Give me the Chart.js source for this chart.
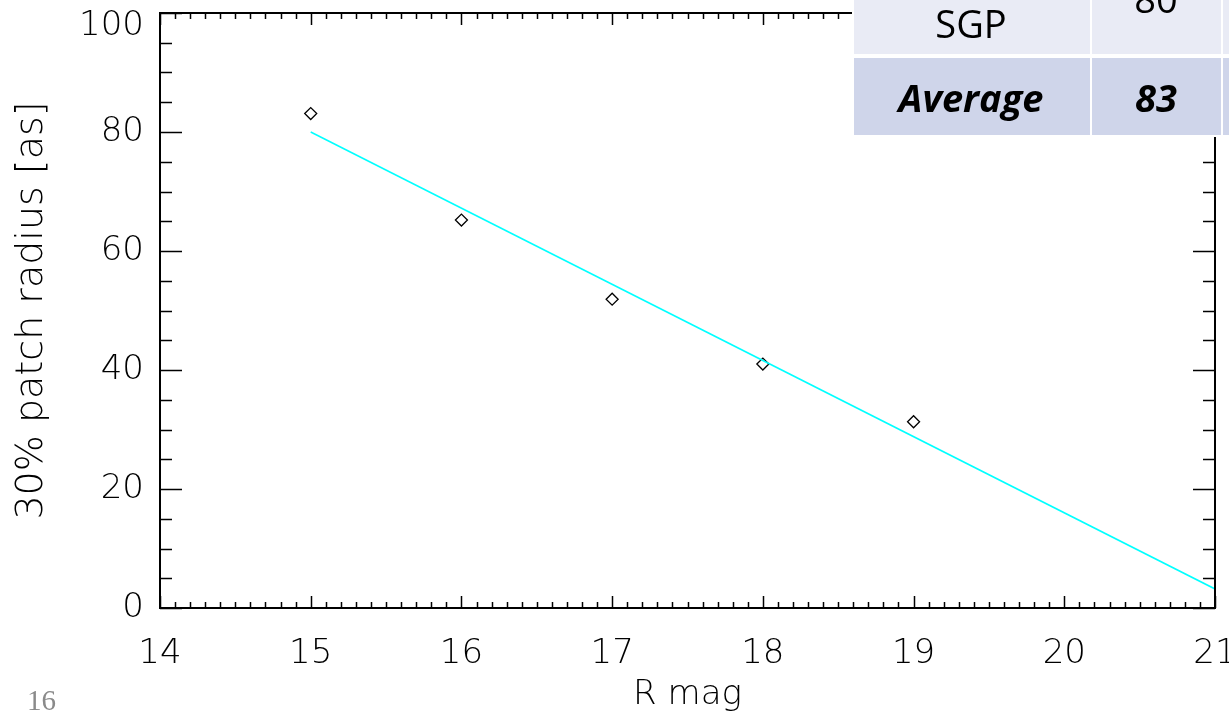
<!DOCTYPE html>
<html>
<head>
<meta charset="utf-8">
<script src="https://cdn.jsdelivr.net/npm/chart.js@4/dist/chart.umd.min.js"></script>
<style>
  html, body { margin: 0; padding: 0; background: #ffffff; }
  #wrap { position: relative; width: 1229px; height: 722px; }
</style>
</head>
<body>
<div id="wrap"><canvas id="c" width="1229" height="722"></canvas></div>
<script>
// Measured patch radius per R magnitude
const magnitudes  = [15, 16, 17, 18, 19];
const patchRadius = [83.1, 65.2, 51.9, 41.0, 31.3];

// Linear fit through the measurements
const fitMag    = [15, 21];
const fitRadius = [80.0, 3.2];

// Axis ranges
const xRange = [14, 21];
const yRange = [0, 100];

// Summary table rows
const tableLabels = ['SGP', 'Average'];
const tableValues = ['80', '83'];

const AXIS_FONT = '"DejaVu Sans", sans-serif';

// Keep the plot box fixed: no extra room reserved for overhanging edge labels
function fixBox(s, size) {
  if (s.isHorizontal()) s.height = size; else s.width = size;
  s.paddingLeft = 0; s.paddingRight = 0; s.paddingTop = 0; s.paddingBottom = 0;
}

// Nudge the top y label down so it stays inside the canvas
const topLabelNudge = {
  id: 'topLabelNudge',
  beforeDraw(chart) {
    const y = chart.scales.y;
    const items = y.getLabelItems(chart.chartArea);
    items.forEach(it => {
      if (it.label === String(yRange[1])) {
        const t = it.options.translation;
        it.options.translation = [t[0], t[1] + 13];
      }
    });
  }
};

// Frame with inward-pointing major/minor tick marks on all four sides
const frameTicks = {
  id: 'frameTicks',
  afterDatasetsDraw(chart) {
    const {ctx, chartArea: a, scales: {x, y}} = chart;
    ctx.save();
    ctx.strokeStyle = '#000';
    ctx.lineWidth = 1.5;
    ctx.beginPath();
    // x ticks: major every 1, minor every 0.1
    for (let i = 0; i <= (xRange[1] - xRange[0]) * 10; i++) {
      const v = xRange[0] + i / 10;
      const px = Math.round(x.getPixelForValue(v)) + 0.5;
      const len = (i % 10 === 0) ? 12 : 6;
      ctx.moveTo(px, a.bottom); ctx.lineTo(px, a.bottom - len);
      ctx.moveTo(px, a.top);    ctx.lineTo(px, a.top + len);
    }
    // y ticks: major every 20, minor every 5
    for (let v = yRange[0]; v <= yRange[1]; v += 5) {
      const py = Math.round(y.getPixelForValue(v)) + 0.5;
      const len = (v % 20 === 0) ? 22 : 12;
      ctx.moveTo(a.left, py);  ctx.lineTo(a.left + len, py);
      ctx.moveTo(a.right, py); ctx.lineTo(a.right - len, py);
    }
    ctx.stroke();
    ctx.lineWidth = 2;
    ctx.strokeRect(a.left, a.top, a.right - a.left, a.bottom - a.top);
    ctx.restore();
  }
};

// Slide number and the summary table in the top-right corner
const overlay = {
  id: 'overlay',
  afterDraw(chart) {
    const {ctx} = chart;
    ctx.save();
    // table cells
    const cols = [[854, 1090], [1092, 1221], [1223, 1229]];
    const rows = [[0, 54, '#e9ebf5'], [58, 135, '#cfd5ea']];
    ctx.fillStyle = '#ffffff';
    ctx.fillRect(852, 0, 377, 137);
    rows.forEach(r => {
      ctx.fillStyle = r[2];
      cols.forEach(c => ctx.fillRect(c[0], r[0], c[1] - c[0], r[1] - r[0]));
    });
    ctx.fillStyle = '#000';
    ctx.textAlign = 'center';
    ctx.textBaseline = 'alphabetic';
    ctx.font = '38px "Open Sans", sans-serif';
    ctx.fillText(tableLabels[0], 971, 38);
    ctx.fillText(tableValues[0], 1156, 13);
    ctx.font = 'italic bold 38px "Open Sans", sans-serif';
    ctx.fillText(tableLabels[1], 971, 112);
    ctx.fillText(tableValues[1], 1156, 112);

    // slide number
    ctx.fillStyle = '#8a8a8a';
    ctx.textAlign = 'left';
    ctx.font = '29px "Liberation Serif", serif';
    ctx.fillText('16', 27, 710);
    ctx.restore();
  }
};

new Chart(document.getElementById('c'), {
  data: {
    datasets: [
      {
        type: 'line',
        label: 'fit',
        data: fitMag.map((m, i) => ({x: m, y: fitRadius[i]})),
        borderColor: '#00ffff',
        borderWidth: 1.5,
        pointRadius: 0,
        fill: false,
        tension: 0
      },
      {
        type: 'scatter',
        label: 'measured',
        data: magnitudes.map((m, i) => ({x: m, y: patchRadius[i]})),
        pointStyle: 'rectRot',
        pointRadius: 6,
        pointBorderWidth: 1.3,
        borderColor: '#000000',
        backgroundColor: 'rgba(0,0,0,0)'
      }
    ]
  },
  options: {
    responsive: false,
    animation: false,
    layout: { padding: { top: 13, right: 14, left: 0, bottom: 0 } },
    plugins: { legend: { display: false }, tooltip: { enabled: false } },
    scales: {
      x: {
        type: 'linear',
        min: xRange[0], max: xRange[1],
        grid: { display: false, drawTicks: false },
        border: { display: false },
        ticks: { stepSize: 1, color: '#000', padding: 26, maxRotation: 0, autoSkip: false, font: { family: AXIS_FONT, size: 34, weight: 200 } },
        title: { display: true, text: 'R mag', color: '#000', padding: { bottom: 6, top: 0 }, font: { family: AXIS_FONT, size: 34, weight: 200 } },
        afterFit(s) { fixBox(s, 114); }
      },
      y: {
        type: 'linear',
        min: yRange[0], max: yRange[1],
        grid: { display: false, drawTicks: false },
        border: { display: false },
        ticks: { stepSize: 20, color: '#000', padding: 16, font: { family: AXIS_FONT, size: 34, weight: 200 } },
        title: { display: true, text: '30% patch radius [as]', color: '#000', padding: { top: 9, bottom: 0 }, font: { family: AXIS_FONT, size: 38, weight: 200 } },
        afterFit(s) { fixBox(s, 160); }
      }
    }
  },
  plugins: [topLabelNudge, frameTicks, overlay]
});
</script>
</body>
</html>
